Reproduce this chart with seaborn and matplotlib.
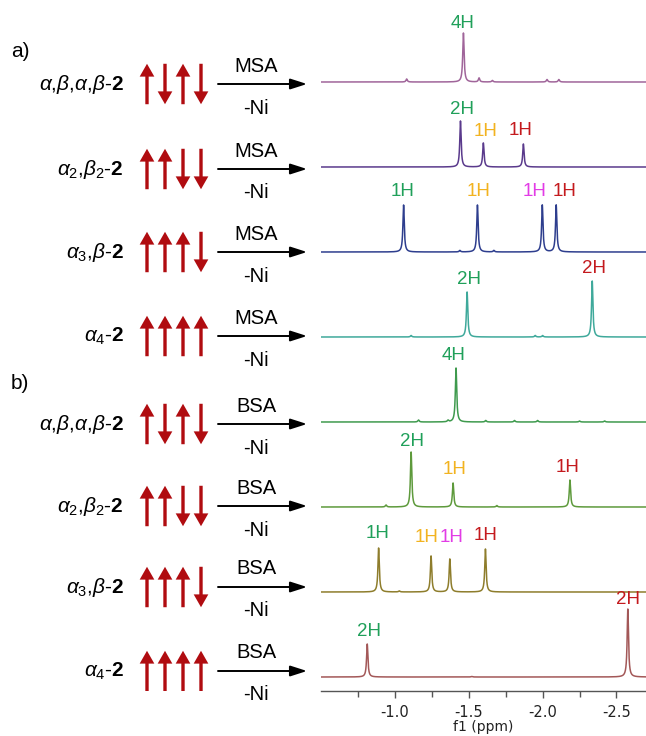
import numpy as np
import pandas as pd
import matplotlib
matplotlib.use("Agg")
import matplotlib.pyplot as plt
from matplotlib.patches import FancyArrowPatch
import seaborn as sns

# Rows, top to bottom: a) MSA series, b) BSA series
compounds = [r"$\alpha$,$\beta$,$\alpha$,$\beta$-$\mathbf{2}$",
             r"$\alpha_{\mathit{2}}$,$\beta_{\mathit{2}}$-$\mathbf{2}$",
             r"$\alpha_{\mathit{3}}$,$\beta$-$\mathbf{2}$",
             r"$\alpha_{\mathit{4}}$-$\mathbf{2}$"] * 2
spins = ["udud", "uudd", "uuud", "uuuu"] * 2
reagents = ["MSA"] * 4 + ["BSA"] * 4

# Peak positions (ppm) and heights (arbitrary units) for each spectrum
peak_pos = [
    [-1.08, -1.464, -1.57, -1.66, -2.03, -2.11],
    [-1.444, -1.599, -1.87],
    [-1.059, -1.44, -1.559, -1.67, -1.998, -2.092],
    [-1.11, -1.489, -1.95, -2.0, -2.336],
    [-1.16, -1.36, -1.414, -1.615, -1.81, -1.966, -2.25, -2.42],
    [-0.94, -1.11, -1.394, -1.69, -2.185],
    [-0.89, -1.03, -1.245, -1.372, -1.613],
    [-0.813, -1.52, -2.577],
]
peak_height = [
    [3, 49, 4, 1.5, 2.5, 2.5],
    [46, 24, 23],
    [47, 1.5, 47, 1.5, 47, 47],
    [1.5, 45, 1.5, 1.5, 56],
    [2, 1.5, 54, 1.5, 1.5, 1.5, 1, 1],
    [2, 55, 24, 1.5, 27],
    [44, 1, 36, 33, 43],
    [33, 0.5, 68],
]

# Integration labels per spectrum
label_text = [["4H"], ["2H", "1H", "1H"], ["1H", "1H", "1H", "1H"], ["2H", "2H"],
              ["4H"], ["2H", "1H", "1H"], ["1H", "1H", "1H", "1H"], ["2H", "2H"]]
label_kind = [["g"], ["g", "o", "r"], ["g", "o", "m", "r"], ["g", "r"],
              ["g"], ["g", "o", "r"], ["g", "o", "m", "r"], ["g", "r"]]
label_ppm = [[-1.458], [-1.453, -1.615, -1.852], [-1.052, -1.567, -1.946, -2.149], [-1.500, -2.351],
             [-1.399], [-1.113, -1.405, -2.167], [-0.880, -1.214, -1.383, -1.613], [-0.823, -2.581]]
label_h = [[59], [58, 36, 37], [60, 60, 60, 60], [58, 69],
           [67], [65, 37, 40], [59, 54, 54, 57], [46, 78]]

trace_colors = ["#a0659a", "#5a3a8c", "#2e3e8e", "#3fa99b",
                "#3f9a4e", "#5e9a3c", "#8e7d2c", "#a35858"]
label_colors = {"g": "#20a05a", "o": "#f2b320", "m": "#e23ce6", "r": "#c41a1e"}
arrow_red = "#b00c10"

# layout (pixel-like units, y measured up from the ppm axis)
offsets = [14 + 85 * (7 - i) for i in range(8)]
row_y = [607, 522, 439, 355, 267, 185, 104, 20]
spin_x = [147, 165, 183, 201]

sns.set_theme(style="white")
plt.rcParams["font.family"] = ["Liberation Sans", "DejaVu Sans"]
plt.rcParams["mathtext.fontset"] = "custom"
plt.rcParams["mathtext.rm"] = "Liberation Sans"
plt.rcParams["mathtext.it"] = "Liberation Sans:italic"
plt.rcParams["mathtext.bf"] = "Liberation Sans:bold"
plt.rcParams["axes.unicode_minus"] = False
plt.rcParams["text.color"] = "black"

fig = plt.figure(figsize=(6.46, 7.36), dpi=100)
bot = 45 / 736
hgt = 691 / 736
ax = fig.add_axes([321 / 646, bot, 325 / 646, hgt])
axl = fig.add_axes([0, bot, 321 / 646, hgt])

# spectra
ppm = np.linspace(-0.5, -2.7, 4401)
fwhm = 0.011
frames = []
for i in range(8):
    y = np.zeros_like(ppm)
    for p, h in zip(peak_pos[i], peak_height[i]):
        y += h * (fwhm / 2) ** 2 / ((ppm - p) ** 2 + (fwhm / 2) ** 2)
    frames.append(pd.DataFrame({"ppm": ppm, "y": y + offsets[i], "trace": f"t{i}"}))
df = pd.concat(frames, ignore_index=True)

sns.lineplot(data=df, x="ppm", y="y", hue="trace", palette=trace_colors,
             legend=False, ax=ax, linewidth=1.1, estimator=None, sort=False)

for i in range(8):
    for t, k, x, h in zip(label_text[i], label_kind[i], label_ppm[i], label_h[i]):
        ax.text(x, offsets[i] + h, t, color=label_colors[k], fontsize=13.5,
                ha="center", va="center")

ax.set_xlim(-0.5, -2.7)
ax.set_ylim(0, 691)
ax.set_yticks([])
ax.set_xticks([-1.0, -1.5, -2.0, -2.5])
ax.set_xticklabels(["-1.0", "-1.5", "-2.0", "-2.5"], family="DejaVu Sans")
ax.set_xticks([-0.75, -1.25, -1.75, -2.25], minor=True)
ax.tick_params(axis="x", which="major", direction="out", length=5, width=1,
               color="#555555", labelsize=10.5, pad=5, labelcolor="#222222", bottom=True)
ax.tick_params(axis="x", which="minor", direction="out", length=4, width=1,
               color="#555555", bottom=True)
ax.set_xlabel("f1 (ppm)", fontsize=10, family="DejaVu Sans", labelpad=0, color="#222222")
ax.set_ylabel("")
sns.despine(ax=ax, left=True, top=True, right=True)
ax.spines["bottom"].set_color("#555555")
ax.spines["bottom"].set_linewidth(1)
ax.patch.set_alpha(0)

# left-hand scheme
axl.set_xlim(0, 321)
axl.set_ylim(0, 691)
axl.axis("off")
axl.text(11, 640, "a)", fontsize=15, ha="left", va="center")
axl.text(11, 308, "b)", fontsize=15, ha="left", va="center")

for i in range(8):
    yr = row_y[i]
    axl.text(124, yr - 6, compounds[i], ha="right", va="baseline", fontsize=15)
    for k, d in enumerate(spins[i]):
        a, b = (yr - 23, yr + 23) if d == "u" else (yr + 23, yr - 23)
        axl.add_patch(FancyArrowPatch(
            (spin_x[k], a), (spin_x[k], b),
            arrowstyle="simple,head_length=0.42,head_width=0.48,tail_width=0.11",
            mutation_scale=22, color=arrow_red, lw=0))
    axl.annotate("", xy=(307, yr), xytext=(218, yr),
                 arrowprops=dict(arrowstyle="-|>,head_length=0.5,head_width=0.16",
                                 color="black", lw=1.4, mutation_scale=20,
                                 shrinkA=0, shrinkB=0))
    axl.text(256, yr + 18, reagents[i], ha="center", va="center", fontsize=14.5)
    axl.text(256, yr - 24, "-Ni", ha="center", va="center", fontsize=14.5)

fig.savefig("out.png", dpi=100)
